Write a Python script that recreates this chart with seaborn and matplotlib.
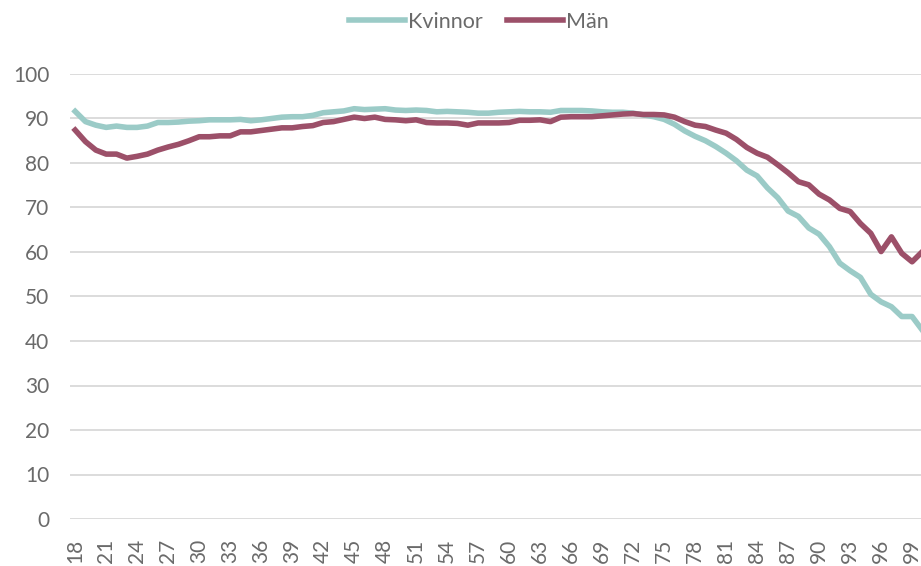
import pandas as pd
import seaborn as sns
import matplotlib.pyplot as plt

ages = list(range(18, 101))

kvinnor = [91.6, 89.3, 88.5, 88.0, 88.3, 88.0, 88.0, 88.3, 89.1, 89.1,
           89.2, 89.4, 89.5, 89.7, 89.7, 89.7, 89.8, 89.5, 89.7, 90.0,
           90.3, 90.4, 90.4, 90.7, 91.3, 91.5, 91.7, 92.2, 92.0, 92.1,
           92.2, 91.9, 91.8, 91.9, 91.8, 91.5, 91.6, 91.5, 91.4, 91.2,
           91.2, 91.4, 91.5, 91.6, 91.5, 91.5, 91.4, 91.8, 91.8, 91.8,
           91.7, 91.5, 91.4, 91.4, 91.2, 90.8, 90.4, 89.8, 88.7, 87.2,
           86.0, 85.0, 83.7, 82.2, 80.5, 78.4, 77.1, 74.4, 72.2, 69.2,
           68.0, 65.4, 64.0, 61.2, 57.5, 55.8, 54.3, 50.5, 48.8, 47.7,
           45.5, 45.5, 42.4]

man = [87.4, 84.8, 82.9, 82.0, 82.0, 81.1, 81.5, 82.0, 82.9, 83.6,
       84.2, 85.0, 85.9, 85.9, 86.1, 86.1, 87.0, 87.0, 87.3, 87.6,
       87.9, 87.9, 88.2, 88.4, 89.1, 89.3, 89.8, 90.3, 90.0, 90.3,
       89.8, 89.7, 89.5, 89.7, 89.1, 89.0, 89.0, 88.9, 88.5, 89.0,
       89.0, 89.0, 89.1, 89.6, 89.6, 89.7, 89.3, 90.3, 90.4, 90.4,
       90.4, 90.6, 90.8, 91.0, 91.1, 90.9, 90.9, 90.8, 90.3, 89.3,
       88.5, 88.2, 87.4, 86.7, 85.3, 83.5, 82.2, 81.3, 79.6, 77.8,
       75.8, 75.1, 73.0, 71.7, 69.8, 69.1, 66.4, 64.2, 60.1, 63.4,
       59.7, 57.8, 60.1]

tick_ages = list(range(18, 100, 3))
y_ticks = list(range(0, 101, 10))

df = pd.DataFrame({
    "Ålder": ages * 2,
    "Andel": kvinnor + man,
    "Kön": ["Kvinnor"] * len(ages) + ["Män"] * len(ages),
})

plt.rcParams['font.family'] = ['Lato', 'DejaVu Sans']
text_color = "#6a6a6a"

fig = plt.figure(figsize=(9.21, 5.66), dpi=100)
ax = fig.add_axes([70 / 921, 1 - 519 / 566, 857.6 / 921, 445 / 566])

sns.lineplot(data=df, x="Ålder", y="Andel", hue="Kön",
             palette={"Kvinnor": "#9bcbc7", "Män": "#9c5069"},
             linewidth=4, ax=ax)

ax.set_xlim(17.5, 100.5)
ax.set_ylim(0, 100)
ax.set_yticks(y_ticks)
ax.set_xticks(tick_ages)
ax.set_xticklabels([str(a) for a in tick_ages], rotation=90)
ax.grid(axis="y", color="#d9d9d9", linewidth=1.3)
ax.set_axisbelow(True)
ax.tick_params(length=0, labelsize=15, labelcolor=text_color)
ax.tick_params(axis="y", pad=15)
ax.tick_params(axis="x", pad=14)
for s in ax.spines.values():
    s.set_visible(False)
ax.set_xlabel("")
ax.set_ylabel("")

handles, labels = ax.get_legend_handles_labels()
leg = ax.legend(handles, labels, loc="center", bbox_to_anchor=(479 / 921, 1 - 22 / 566),
                bbox_transform=fig.transFigure, ncol=2, frameon=False,
                handlelength=2.6, handletextpad=0.15, columnspacing=1.1,
                labelcolor=text_color, prop={"size": 15.5})

fig.savefig("out.png", dpi=100)
